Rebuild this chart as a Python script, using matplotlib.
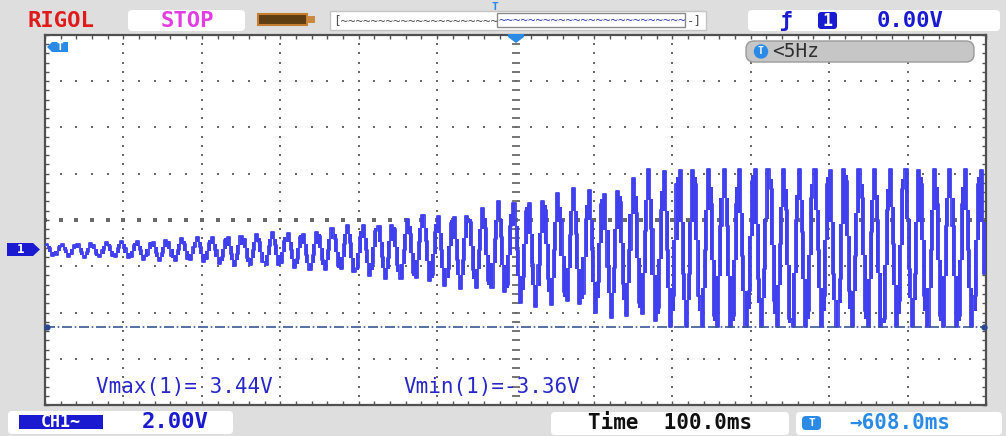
import numpy as np
import matplotlib.pyplot as plt
from matplotlib.patches import FancyBboxPatch, Rectangle, Polygon

W, H = 1006, 436

# scope settings shown on screen
volts_per_div = 2.0
ms_per_div = 100.0
centre_v = 1.25          # CH1 volts at the centre graticule line
sample_ms = 4.0          # one screen column

vmax_text = "Vmax(1)= 3.44V"
vmin_text = "Vmin(1)=-3.36V"
vmin_level = -3.36
trig_level = "0.00V"
trig_freq = "<5Hz"
ch1_scale = "2.00V"
timebase = "Time  100.0ms"
trig_pos = "\u2192608.0ms"

# CH1 trace (V), one value per 4 ms column
trace_v = [
    .23, .02, -.29, -.25, .09, .22, -.05, -.34, -.20, .16, .21, -.13,
    -.38, -.14, .24, .18, -.22, -.37, -.05, .31, .14, -.31, -.37, .05,
    .35, .05, -.40, -.33, .15, .34, -.05, -.47, -.27, .26, .32, -.16,
    -.53, -.17, .37, .29, -.29, -.52, -.05, .45, .21, -.42, -.50, .09,
    .52, .10, -.55, -.45, .24, .50, -.05, -.66, -.37, .40, .50, -.21,
    -.73, -.23, .54, .43, -.39, -.71, -.05, .65, .31, -.56, -.68, .14,
    .71, .15, -.71, -.59, .33, .69, -.05, -.83, -.45, .52, .65, -.26,
    -.93, -.28, .72, .57, -.49, -.90, -.05, .89, .44, -.74, -.89, .20,
    1.05, .24, -1.01, -.83, .50, 1.02, -.05, -1.19, -.64, .79, .98, -.36,
    -1.32, -.38, 1.05, .85, -.69, -1.28, -.05, 1.31, .65, -1.04, -1.27, .31,
    1.47, .35, -1.37, -1.13, .71, 1.42, -.05, -1.62, -.86, 1.10, 1.36, -.47,
    -1.75, -.49, 1.43, 1.16, -.90, -1.70, -.05, 1.79, .90, -1.40, -1.70, .44,
    2.05, .50, -1.88, -1.54, 1.00, 1.99, -.05, -2.33, -1.23, 1.62, 1.99, -.66,
    -2.50, -.69, 2.08, 1.69, -1.28, -2.43, -.05, 2.42, 1.23, -1.86, -2.27, .61,
    2.63, .65, -2.38, -1.95, 1.29, 2.55, -.05, -2.77, -1.45, 1.94, 2.39, -.78,
    -3.00, -.82, 2.52, 2.04, -1.53, -2.91, -.05, 3.05, 1.55, -2.32, -2.83, .78,
    3.44, .86, -3.10, -2.54, 1.70, 3.35, -.05, -3.36, -2.05, 2.79, 3.43, -1.09,
    -3.36, -1.09, 3.43, 2.79, -2.05, -3.36, -.05, 3.44, 1.95, -2.89, -3.36, .99,
    3.44, .99, -3.36, -2.89, 1.95, 3.44, -.30, -3.36, -1.80, 2.95, 3.44, -1.30,
    -3.36, -.85, 3.44, 2.60, -2.25, -3.36, .20, 3.44, 1.70, -3.05, -3.36, 1.25,
    3.44, .75, -3.36, -2.70, 2.20, 3.44, -.05, -3.36, -2.05, 2.79, 3.43, -1.09,
    -3.36, -1.30, 3.44, 2.95, -1.80, -3.36, -.30, 3.44, 2.20, -2.70, -3.36, .75,
    3.44, 1.25, -3.36, -3.05, 1.70, 3.44, .20, -3.36, -2.25, 2.60, 3.44, -.85,
    -3.36, -1.09, 3.43, 2.79, -2.05, -3.36, -.05, 3.44, 1.95, -2.89, -3.36, .99,
    3.44, .99, -3.36, -2.89, 1.95, 3.44, -.05, -3.36, -2.05, 2.79, 3.43, -1.09,
]

trace_col = '#4040ee'
meas_col = '#2828c8'
ui_blue = '#1a1ad0'
t_blue = '#2a8ae6'
grid_col = '#6a6a6a'
mono = 'DejaVu Sans Mono'

fig = plt.figure(figsize=(W / 100, H / 100), dpi=100, facecolor='#dedede')

# graticule area: x 45..986, y 35..405 (pixels from top-left)
ax = fig.add_axes([45 / W, 1 - 405 / H, (986 - 45) / W, (405 - 35) / H])
ax.set_facecolor('white')
x0, x1 = 0, 12 * ms_per_div
y0, y1 = centre_v - 4 * volts_per_div, centre_v + 4 * volts_per_div
ax.set_xlim(x0, x1)
ax.set_ylim(y0, y1)

xfine = np.linspace(x0, x1, 61)
yfine = np.linspace(y0, y1, 41)
for k in range(1, 12):
    xv = k * ms_per_div
    if k == 6:
        ax.plot(np.full_like(yfine, xv), yfine, ls='none', marker='_', ms=6,
                mew=1.3, color=grid_col, zorder=1)
    else:
        ax.plot(np.full_like(yfine, xv), yfine, ls='none', marker='s', ms=1.5,
                mew=0, color=grid_col, zorder=1)
for k in range(-3, 4):
    yv = centre_v + k * volts_per_div
    if k == 0:
        ax.plot(xfine, np.full_like(xfine, yv), ls='none', marker='s', ms=2.6,
                mew=0, color=grid_col, zorder=1)
    else:
        ax.plot(xfine, np.full_like(xfine, yv), ls='none', marker='s', ms=1.5,
                mew=0, color=grid_col, zorder=1)

ax.set_xticks(xfine)
ax.set_yticks(yfine)
ax.tick_params(direction='in', length=3, width=1, color='#555555',
               top=True, right=True, labelbottom=False, labelleft=False)
for s in ax.spines.values():
    s.set_color('#505050')
    s.set_linewidth(1.6)

# trace: each screen column filled between the half-way points to its neighbours
v = np.asarray(trace_v)
t = (np.arange(v.size) + 0.5) * sample_ms
prev = np.r_[v[0], v[:-1]]
nxt = np.r_[v[1:], v[-1]]
lo = np.minimum(v, np.minimum((v + prev) / 2, (v + nxt) / 2))
hi = np.maximum(v, np.maximum((v + prev) / 2, (v + nxt) / 2))
ax.bar(t, hi - lo, bottom=lo, width=sample_ms * 0.95, color=trace_col,
       linewidth=0, zorder=3)
ax.plot(t, v, drawstyle='steps-mid', color=trace_col, lw=1.3, zorder=3)

# Vmin cursor
ax.axhline(vmin_level, color='#3a5896', lw=1.2, ls=(0, (6, 1.6, 1, 1.6)), zorder=4)
ax.plot([x0 + 2, x1 - 2], [vmin_level, vmin_level], ls='none', marker='o',
        ms=3.5, color='#2a4a90', zorder=5, clip_on=False)

ax.text(0.148, 0.05, vmax_text, transform=ax.transAxes, ha='center', va='center',
        color=meas_col, fontsize=15, family=mono, zorder=6)
ax.text(0.475, 0.05, vmin_text, transform=ax.transAxes, ha='center', va='center',
        color=meas_col, fontsize=15, family=mono, zorder=6)

# screen furniture in pixel coordinates
ui = fig.add_axes([0, 0, 1, 1], zorder=5)
ui.set_xlim(0, W)
ui.set_ylim(H, 0)
ui.axis('off')
ui.patch.set_alpha(0)


def box(x, y, w, h, fc='white', ec='none', r=4, lw=1):
    ui.add_patch(FancyBboxPatch((x, y), w, h, boxstyle=f'round,pad=0,rounding_size={r}',
                                fc=fc, ec=ec, lw=lw))


# top bar
ui.text(61, 21, "RIGOL", ha='center', va='center', color='#e01a1a',
        fontsize=16, family=mono, weight='bold')
box(128, 10, 117, 21)
ui.text(187, 21, "STOP", ha='center', va='center', color='#e23ee2',
        fontsize=16, family=mono, weight='bold')
ui.add_patch(Rectangle((258, 14), 49, 11, fc='#5e3d12', ec='#c57d32', lw=1.5))
ui.add_patch(Rectangle((307, 16), 8, 7, fc='#c98a40', ec='none'))

ui.add_patch(Rectangle((330, 11), 376, 19, fc='white', ec='#c4c4c4', lw=1))
ui.text(333, 21, "[" + "~" * 21, ha='left', va='center', color='#505050',
        fontsize=9, family=mono)
ui.add_patch(Rectangle((497, 13.5), 188, 14, fc='white', ec='#8a8a8a', lw=1))
ui.text(499, 21, "~" * 25, ha='left', va='center', color='#3040b0',
        fontsize=9, family=mono)
ui.text(687, 21, "-]", ha='left', va='center', color='#505050',
        fontsize=9, family=mono)
ui.text(495, 7, "T", ha='center', va='center', color=t_blue, fontsize=8,
        family=mono, weight='bold')

box(748, 10, 252, 21)
ui.text(785, 21, "\u0192", ha='center', va='center', color=ui_blue,
        fontsize=15, family=mono, weight='bold')
box(818, 12, 19, 17, fc=ui_blue, r=3)
ui.text(827.5, 21, "1", ha='center', va='center', color='white', fontsize=12,
        family=mono, weight='bold')
ui.text(910, 21, trig_level, ha='center', va='center', color=ui_blue,
        fontsize=16, family=mono, weight='bold')

# markers on the graticule
ui.add_patch(Polygon([[516, 43], [508, 37], [508, 34], [524, 34], [524, 37]],
                     closed=True, fc=t_blue, ec='none'))
ui.add_patch(Polygon([[47, 47], [52, 42], [68, 42], [68, 52], [52, 52]],
                     closed=True, fc=t_blue, ec='none'))
ui.text(60, 47, "T", ha='center', va='center', color='white', fontsize=8,
        family=mono, weight='bold')

box(746, 41, 228, 21, fc='#c6c6c6', ec='#9a9a9a', r=8)
ui.add_patch(plt.Circle((761, 51.5), 6.5, color=t_blue))
ui.text(761, 51.5, "T", ha='center', va='center', color='white', fontsize=7,
        family=mono, weight='bold')
ui.text(772, 51.5, trig_freq, ha='left', va='center', color='#303030',
        fontsize=14, family=mono)

# channel 1 ground marker
ui.add_patch(Polygon([[40, 249.5], [33, 243], [7, 243], [7, 256], [33, 256]],
                     closed=True, fc=ui_blue, ec='none'))
ui.text(21, 249.5, "1", ha='center', va='center', color='white', fontsize=9,
        family=mono, weight='bold')

# bottom bar
box(8, 411, 225, 23)
ui.add_patch(Rectangle((19, 415), 84, 14, fc=ui_blue, ec='none'))
ui.text(61, 422, "CH1~", ha='center', va='center', color='white', fontsize=12,
        family=mono, weight='bold')
ui.text(175, 422, ch1_scale, ha='center', va='center', color=ui_blue,
        fontsize=16, family=mono, weight='bold')

box(551, 412, 238, 23)
ui.text(670, 423, timebase, ha='center', va='center', color='#101010',
        fontsize=15, family=mono, weight='bold')

box(796, 412, 206, 23)
box(802, 416, 19, 14, fc=t_blue, r=4)
ui.text(811.5, 423, "T", ha='center', va='center', color='white', fontsize=8,
        family=mono, weight='bold')
ui.text(900, 423, trig_pos, ha='center', va='center', color=t_blue,
        fontsize=15, family=mono, weight='bold')

fig.savefig('out.png', dpi=100, facecolor=fig.get_facecolor())
